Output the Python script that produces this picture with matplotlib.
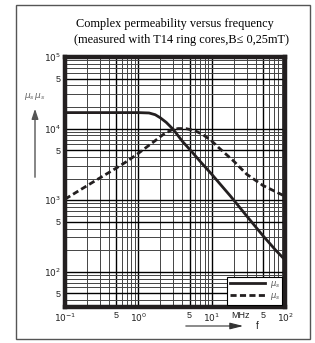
import matplotlib as mpl
mpl.use('Agg')
import matplotlib.pyplot as plt
from matplotlib.patches import Rectangle, FancyArrowPatch
from matplotlib.lines import Line2D
import numpy as np

plt.rcParams['font.family'] = ['Liberation Sans', 'DejaVu Sans']

freq_real = [0.1, 0.5, 1.0, 1.4, 1.7, 2.0, 2.4, 3.0, 4.0, 5.5, 7.0, 10.0,
             13.0, 18.0, 30.0, 50.0, 75.0, 100.0]
mu_real = [16700, 16700, 16700, 16500, 15600, 14100, 12200, 9700, 6600,
           4600, 3450, 2300, 1680, 1140, 600, 318, 198, 146]

freq_imag = [0.1, 0.24, 0.5, 0.70, 1.0, 1.58, 2.2, 2.8, 3.5, 4.5, 5.8, 7.5,
             10.0, 13.0, 20.0, 30.0, 50.0, 100.0]
mu_imag = [1030, 1780, 2800, 3480, 4500, 6400, 8300, 9500, 10000, 9950,
           9400, 8300, 6700, 5200, 3500, 2300, 1600, 1130]

ytick_vals = [50, 100, 500, 1000, 5000, 10000, 50000, 100000]
ytick_text = ['5', '$10^2$', '5', '$10^3$', '5', '$10^4$', '5', '$10^5$']
xtick_vals = [0.1, 0.5, 1, 5, 10, 50, 100]
xtick_text = ['$10^{-1}$', '5', '$10^0$', '5', '$10^1$', '5', '$10^2$']

W, H = 315, 343
fig = plt.figure(figsize=(W / 100, H / 100), dpi=100)
ax = fig.add_axes([65 / W, 1 - 307 / H, 220 / W, 250 / H])

ax.set_xscale('log')
ax.set_yscale('log')
ax.set_xlim(0.1, 100)
ax.set_ylim(32, 1e5)

ax.grid(which='major', color='black', lw=1.0)
ax.grid(which='minor', color='#444444', lw=0.7)
ax.set_axisbelow(True)

ax.plot(freq_real, mu_real, color='#231f20', lw=2.0, solid_capstyle='butt',
        solid_joinstyle='round')
ax.plot(freq_imag, mu_imag, color='#231f20', lw=2.0, ls=(0, (2.2, 1.2)))

ax.set_xticks(xtick_vals)
ax.set_xticklabels(xtick_text)
ax.set_yticks(ytick_vals)
ax.set_yticklabels(ytick_text)
ax.tick_params(which='both', length=0, labelsize=6.5, colors='#222222', pad=3)
ax.xaxis.set_minor_formatter(mpl.ticker.NullFormatter())
ax.yaxis.set_minor_formatter(mpl.ticker.NullFormatter())
ax.text(25, -0.018, 'MHz', fontsize=6.5, color='#222222', ha='center', va='top',
        transform=ax.get_xaxis_transform())

for s in ax.spines.values():
    s.set_linewidth(3.2)
    s.set_color('#231f20')

handles = [Line2D([], [], color='#231f20', lw=2.0),
           Line2D([], [], color='#231f20', lw=2.0, ls=(0, (2.2, 1.2)))]
leg = ax.legend(handles, [r'$\mu_s$', r'$\mu_s$'], loc='lower right',
                fontsize=6, frameon=True, fancybox=False, handlelength=4.2,
                borderpad=0.3, labelspacing=0.1, handletextpad=0.6,
                borderaxespad=0.3, framealpha=1)
leg.get_frame().set_edgecolor('black')
leg.get_frame().set_linewidth(0.8)
for t in leg.get_texts():
    t.set_color('#555555')

# title
fig.text(175 / W, 1 - 24 / H, 'Complex permeability versus frequency',
         family='Liberation Serif', fontsize=8.8, ha='center', va='center')
fig.text(181 / W, 1 - 40 / H, '(measured with T14 ring cores,B\u2264 0,25mT)',
         family=['Liberation Serif', 'DejaVu Sans'], fontsize=8.8,
         ha='center', va='center')

# axis names with arrows
fig.text(35 / W, 1 - 96 / H, r'$\mu_s\,\mu_s$', fontsize=6.5, color='#666666',
         ha='center', va='center')
fig.patches.append(FancyArrowPatch((35 / W, 1 - 180 / H), (35 / W, 1 - 106 / H),
                                   transform=fig.transFigure, color='#555555',
                                   arrowstyle='-|>,head_length=6,head_width=2',
                                   lw=1.0, mutation_scale=1))
fig.patches.append(FancyArrowPatch((183 / W, 1 - 326 / H), (246 / W, 1 - 326 / H),
                                   transform=fig.transFigure, color='#333333',
                                   arrowstyle='-|>,head_length=8,head_width=2',
                                   lw=0.8, mutation_scale=1))
fig.text(257 / W, 1 - 326 / H, 'f', fontsize=7, ha='center', va='center',
         color='#222222')

# outer frame
fig.patches.append(Rectangle((16 / W, 1 - 339 / H), 294 / W, 334 / H,
                             transform=fig.transFigure, fill=False,
                             edgecolor='#555555', lw=1.0))

fig.savefig('out.png', dpi=100)
